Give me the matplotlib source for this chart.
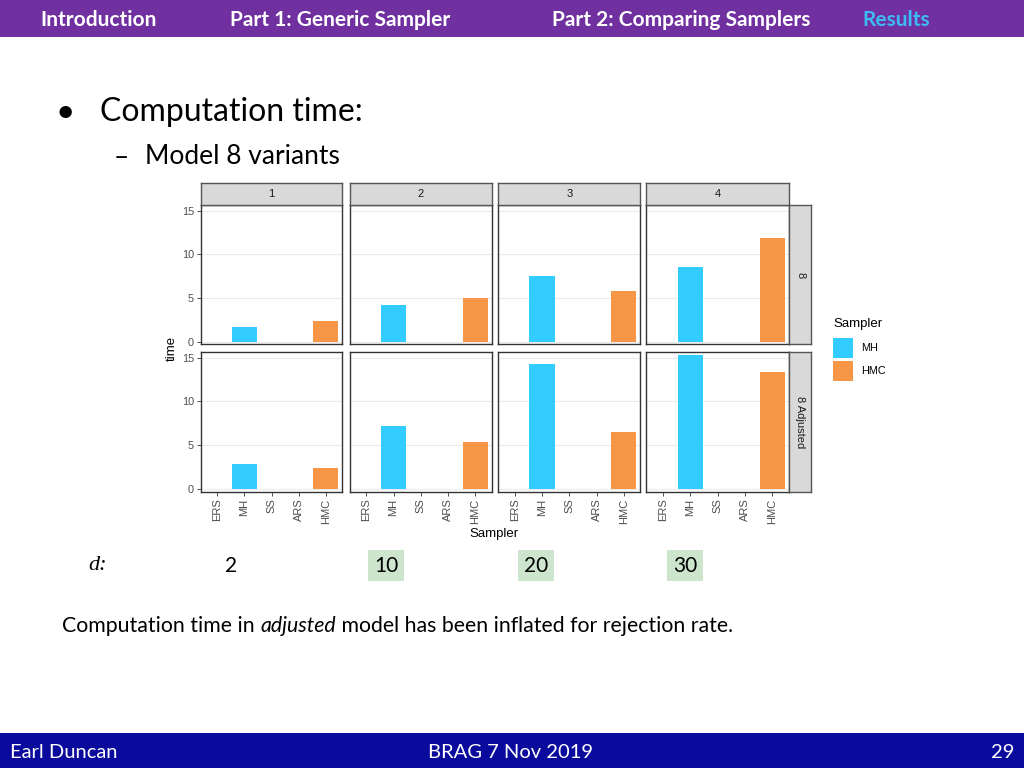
import numpy as np
import matplotlib
matplotlib.use("Agg")
import matplotlib.pyplot as plt
from matplotlib.patches import Rectangle

W, H = 1024, 768

samplers = ["ERS", "MH", "SS", "ARS", "HMC"]
facets = ["1", "2", "3", "4"]
models = ["8", "8 Adjusted"]
# computation time
mh_time = [[1.7, 4.2, 7.5, 8.55], [2.85, 7.25, 14.25, 15.3]]
hmc_time = [[2.4, 4.95, 5.8, 11.85], [2.4, 5.35, 6.5, 13.35]]
dims = ["2", "10", "20", "30"]
dim_highlight = [False, True, True, True]
nav_items = ["Introduction", "Part 1: Generic Sampler", "Part 2: Comparing Samplers", "Results"]

mh_col = "#33CCFF"
hmc_col = "#F79646"


def fx(x):
    return x / W


def fy(y):
    return 1 - y / H


def box(x0, y0, x1, y1):
    return [x0 / W, 1 - y1 / H, (x1 - x0) / W, (y1 - y0) / H]


fig = plt.figure(figsize=(10.24, 7.68), dpi=100)
fig.patch.set_facecolor("white")
slide_font = "Lato"
gg_font = "Liberation Sans"

# header bar
fig.add_artist(Rectangle((0, fy(37)), 1, 37 / H, transform=fig.transFigure,
                         color="#7030A0", lw=0))
nav_x = [40, 230, 552, 862]
for t, x in zip(nav_items, nav_x):
    c = "#3DBBF5" if t == "Results" else "white"
    fig.text(fx(x), fy(20), t, color=c, fontsize=15, fontweight="bold",
             family=slide_font, ha="left", va="center")

# footer bar
fig.add_artist(Rectangle((0, 0), 1, 35 / H, transform=fig.transFigure,
                         color="#0A0A9C", lw=0))
fig.text(fx(10), fy(752), "Earl Duncan", color="white", fontsize=14.5,
         family=slide_font, ha="left", va="center")
fig.text(fx(511), fy(752), "BRAG 7 Nov 2019", color="white", fontsize=14.5,
         family=slide_font, ha="center", va="center")
fig.text(fx(1014), fy(752), "29", color="white", fontsize=14.5,
         family=slide_font, ha="right", va="center")

# bullets
fig.text(fx(65), fy(113), "\u2022", fontsize=24, family=slide_font,
         ha="center", va="center")
fig.text(fx(100), fy(112), "Computation time:", fontsize=23,
         family=slide_font, ha="left", va="center")
fig.text(fx(121), fy(157), "\u2013", fontsize=19, family=slide_font,
         ha="center", va="center")
fig.text(fx(145), fy(157), "Model 8 variants", fontsize=19,
         family=slide_font, ha="left", va="center")

# facet panels
cols_x = [(201, 342.3), (350, 491.7), (498.3, 640.3), (646.3, 788.7)]
rows_y = [(205.3, 344), (352.3, 491.7)]
xpos = np.arange(len(samplers))

for r in range(len(models)):
    for c in range(len(facets)):
        x0, x1 = cols_x[c]
        y0, y1 = rows_y[r]
        ax = fig.add_axes(box(x0, y0, x1, y1))
        ax.bar(xpos[samplers.index("MH")], mh_time[r][c], width=0.92,
               color=mh_col, zorder=2)
        ax.bar(xpos[samplers.index("HMC")], hmc_time[r][c], width=0.92,
               color=hmc_col, zorder=2)
        ax.set_xlim(-0.6, 4.6)
        ax.set_ylim(-0.28, 15.6)
        ax.set_yticks([0, 5, 10, 15])
        ax.set_xticks(xpos)
        ax.set_xticklabels(samplers, rotation=90, family=gg_font,
                           fontsize=8, color="#4D4D4D")
        ax.yaxis.grid(True, color="#EBEBEB", lw=0.8, zorder=0)
        ax.set_axisbelow(True)
        for lab in ax.get_yticklabels():
            lab.set_family(gg_font)
        ax.tick_params(axis="y", left=(c == 0), labelleft=(c == 0),
                       length=3, width=0.6, color="#333333",
                       labelsize=7.8, labelcolor="#4D4D4D", pad=2)
        ax.tick_params(axis="x", bottom=(r == 1), labelbottom=(r == 1),
                       length=3, width=0.6, color="#333333", pad=2)
        for s in ax.spines.values():
            s.set_color("#333333")
            s.set_linewidth(1)

        if r == 0:
            sx = fig.add_axes(box(x0, 182.7, x1, 205.3))
            sx.set_facecolor("#D9D9D9")
            sx.set_xticks([])
            sx.set_yticks([])
            for s in sx.spines.values():
                s.set_color("#555555")
                s.set_linewidth(1)
            sx.text(0.5, 0.5, facets[c], transform=sx.transAxes, ha="center",
                    va="center", fontsize=8, family=gg_font, color="#1A1A1A")
        if c == len(facets) - 1:
            sy = fig.add_axes(box(788.7, y0, 811.3, y1))
            sy.set_facecolor("#D9D9D9")
            sy.set_xticks([])
            sy.set_yticks([])
            for s in sy.spines.values():
                s.set_color("#555555")
                s.set_linewidth(1)
            sy.text(0.5, 0.5, models[r], transform=sy.transAxes, ha="center",
                    va="center", rotation=-90, fontsize=8, family=gg_font,
                    color="#1A1A1A")

fig.text(fx(494), fy(534), "Sampler", fontsize=9.5, family=gg_font,
         ha="center", va="center")
fig.text(fx(172), fy(348), "time", fontsize=9.5, family=gg_font,
         rotation=90, ha="center", va="center")

# legend
fig.text(fx(833), fy(324), "Sampler", fontsize=9.5, family=gg_font,
         ha="left", va="center")
for i, (lab, col) in enumerate([("MH", mh_col), ("HMC", hmc_col)]):
    ytop = 338 + i * 23
    fig.add_artist(Rectangle((fx(833), fy(ytop + 20)), 20 / W, 20 / H,
                             transform=fig.transFigure, color=col, lw=0))
    fig.text(fx(861), fy(ytop + 10), lab, fontsize=7.8, family=gg_font,
             ha="left", va="center")

# dimension row
fig.text(fx(98), fy(566), "d:", fontsize=16, family="Liberation Serif",
         fontstyle="italic", ha="center", va="center")
dim_x = [231, 386, 536, 685]
for d, x, hl in zip(dims, dim_x, dim_highlight):
    if hl:
        fig.add_artist(Rectangle((fx(x - 18), fy(581)), 36 / W, 31 / H,
                                 transform=fig.transFigure, color="#CDE5CD",
                                 lw=0))
    fig.text(fx(x), fy(566), d, fontsize=15, family=slide_font,
             ha="center", va="center")

# footnote with italic word
renderer = fig.canvas.get_renderer()
parts = [("Computation time in ", "normal"), ("adjusted", "italic"),
         (" model has been inflated for rejection rate.", "normal")]
xcur = fx(62)
for txt, st in parts:
    t = fig.text(xcur, fy(626), txt, fontsize=15.3, family=slide_font,
                 fontstyle=st, ha="left", va="center")
    bb = t.get_window_extent(renderer=renderer)
    xcur += bb.width / W

fig.savefig("out.png", dpi=100)
